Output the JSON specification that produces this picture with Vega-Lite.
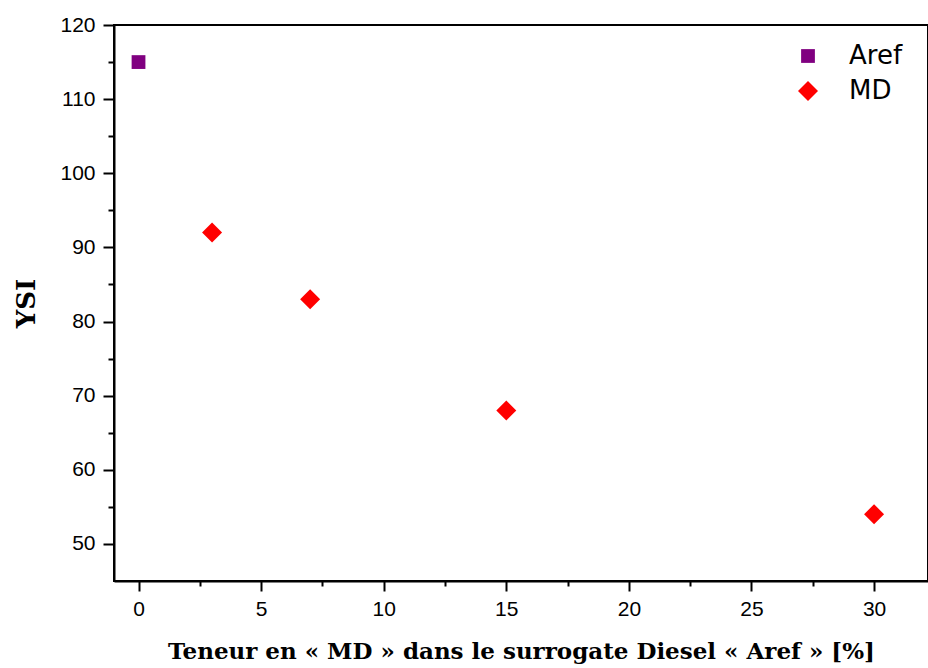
{
  "$schema": "https://vega.github.io/schema/vega-lite/v6.json",
  "autosize": {"type": "none"},
  "width": 814,
  "height": 556,
  "padding": {"left": 114, "top": 25, "right": 0, "bottom": 87},
  "background": "white",
  "config": {
    "view": {"stroke": "black", "strokeWidth": 2},
    "axis": {
      "domainColor": "black", "domainWidth": 2,
      "tickColor": "black", "tickWidth": 2,
      "labelFont": "Liberation Sans", "labelColor": "black",
      "titleFont": "DejaVu Serif", "titleColor": "black", "titleFontWeight": "bold",
      "grid": false
    }
  },
  "data": {
    "values": [
      {"teneur": 0, "ysi": 115, "serie": "Aref"},
      {"teneur": 3, "ysi": 92, "serie": "MD"},
      {"teneur": 7, "ysi": 83, "serie": "MD"},
      {"teneur": 15, "ysi": 68, "serie": "MD"},
      {"teneur": 30, "ysi": 54, "serie": "MD"}
    ]
  },
  "layer": [
    {
      "mark": {"type": "point", "filled": true, "opacity": 1},
      "encoding": {
        "x": {
          "field": "teneur", "type": "quantitative",
          "scale": {"domain": [-1, 32.2], "nice": false, "zero": false},
          "axis": {
            "orient": "bottom",
            "values": [0, 5, 10, 15, 20, 25, 30],
            "tickSize": 10, "labelFontSize": 21, "labelPadding": 7,
            "title": "Teneur en « MD » dans le surrogate Diesel « Aref » [%]",
            "titleFontSize": 23, "titlePadding": 21
          }
        },
        "y": {
          "field": "ysi", "type": "quantitative",
          "scale": {"domain": [45, 120], "nice": false, "zero": false},
          "axis": {
            "orient": "left",
            "values": [50, 60, 70, 80, 90, 100, 110, 120],
            "tickSize": 11, "labelFontSize": 21, "labelPadding": 8,
            "title": "YSI", "titleFontSize": 26, "titlePadding": 20
          }
        },
        "color": {
          "field": "serie", "type": "nominal",
          "scale": {"domain": ["Aref", "MD"], "range": ["#800080", "#ff0000"]},
          "legend": {
            "title": null, "orient": "none", "legendX": 681, "legendY": 18,
            "labelFont": "DejaVu Sans", "labelFontSize": 26, "labelColor": "black",
            "labelOffset": 28, "rowPadding": 9, "padding": 0
          }
        },
        "shape": {
          "field": "serie", "type": "nominal",
          "scale": {"domain": ["Aref", "MD"], "range": ["square", "diamond"]}
        },
        "size": {
          "field": "serie", "type": "nominal",
          "scale": {"domain": ["Aref", "MD"], "range": [190, 400]}
        }
      }
    },
    {
      "mark": {"type": "point", "opacity": 0},
      "encoding": {
        "x": {
          "field": "teneur", "type": "quantitative",
          "axis": {
            "orient": "bottom",
            "values": [2.5, 7.5, 12.5, 17.5, 22.5, 27.5],
            "labels": false, "domain": false, "tickSize": 5, "title": null
          }
        },
        "y": {
          "field": "ysi", "type": "quantitative",
          "axis": {
            "orient": "left",
            "values": [55, 65, 75, 85, 95, 105, 115],
            "labels": false, "domain": false, "tickSize": 6, "title": null
          }
        }
      }
    }
  ],
  "resolve": {"axis": {"x": "independent", "y": "independent"}}
}
